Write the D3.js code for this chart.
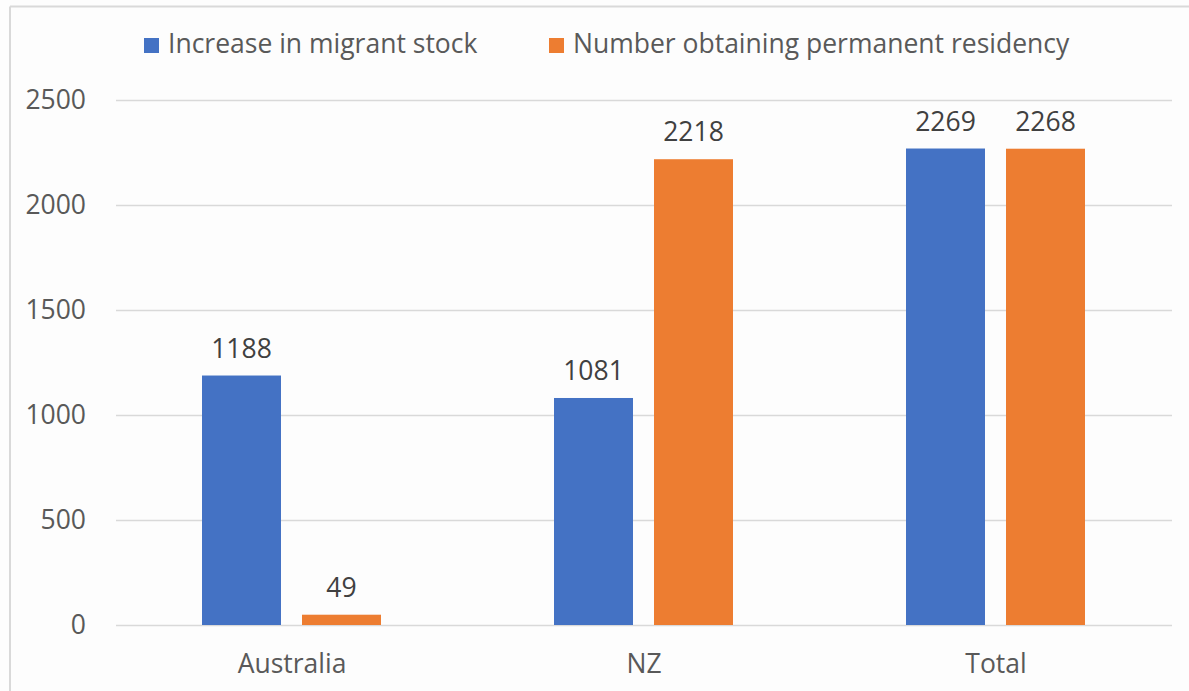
<!DOCTYPE html>
<html>
<head>
<meta charset="utf-8">
<script src="https://cdn.jsdelivr.net/npm/d3@7"></script>
<style>
  body { margin: 0; background: #fff; }
  svg { display: block; font-family: "Open Sans", sans-serif; }
</style>
</head>
<body>
<div id="chart"></div>
<script>
// data
var categories = ["Australia", "NZ", "Total"];
var seriesNames = ["Increase in migrant stock", "Number obtaining permanent residency"];
var migrantStock = [1188, 1081, 2269];
var permanentResidency = [49, 2218, 2268];
var yTicks = [0, 500, 1000, 1500, 2000, 2500];
var colors = ["#4472C4", "#ED7D31"];

var W = 1189, H = 691;
var margin = {top: 100, right: 17, bottom: 66, left: 116},
    width = W - margin.left - margin.right,
    height = H - margin.top - margin.bottom;
var fs = 26.5;

var svg = d3.select("#chart").append("svg")
    .attr("width", W)
    .attr("height", H);

svg.append("rect").attr("width", W).attr("height", H).attr("fill", "#fdfdfd");

// frame (only top and left edge are in the crop)
svg.append("line").attr("x1", 10).attr("x2", W).attr("y1", 6.5).attr("y2", 6.5)
    .attr("stroke", "#d9d9d9").attr("stroke-width", 2);
svg.append("line").attr("x1", 10).attr("x2", 10).attr("y1", 6.5).attr("y2", H)
    .attr("stroke", "#d9d9d9").attr("stroke-width", 2);

var g = svg.append("g")
    .attr("transform", "translate(" + margin.left + "," + margin.top + ")");

var x = d3.scaleBand()
    .domain(categories)
    .range([0, width])
    .padding(0);

var x1 = d3.scaleBand()
    .domain(d3.range(seriesNames.length))
    .range([86, 86 + 179])
    .paddingInner(0.21);

var y = d3.scaleLinear()
    .domain([0, 2500])
    .range([height, 0]);

// gridlines
g.append("g")
  .selectAll("line")
  .data(yTicks)
  .join("line")
    .attr("x1", 0)
    .attr("x2", width)
    .attr("y1", function(d) { return Math.round(y(d)) + 0.5; })
    .attr("y2", function(d) { return Math.round(y(d)) + 0.5; })
    .attr("stroke", "#d9d9d9")
    .attr("stroke-width", 1.5);

// y axis
var yAxis = g.append("g")
    .attr("transform", "translate(-30,0)")
    .call(d3.axisLeft(y).tickValues(yTicks).tickFormat(d3.format("d")).tickSize(0).tickPadding(0));
yAxis.select(".domain").remove();
yAxis.selectAll("text")
    .attr("font-size", fs)
    .attr("font-family", "Open Sans, sans-serif")
    .attr("fill", "#595959");

// x axis
var xAxis = g.append("g")
    .attr("transform", "translate(0," + height + ")")
    .call(d3.axisBottom(x).tickSize(0).tickPadding(0));
xAxis.select(".domain").remove();
xAxis.selectAll("text")
    .attr("dy", null)
    .attr("y", 48)
    .attr("font-size", fs)
    .attr("font-family", "Open Sans, sans-serif")
    .attr("fill", "#595959");

var series = [migrantStock, permanentResidency];
var rows = [];
series.forEach(function(vals, s) {
  vals.forEach(function(v, i) {
    rows.push({cat: categories[i], s: s, value: v});
  });
});

g.selectAll("rect.bar")
  .data(rows)
  .join("rect")
    .attr("class", "bar")
    .attr("x", function(d) { return x(d.cat) + x1(d.s); })
    .attr("width", x1.bandwidth())
    .attr("y", function(d) { return y(d.value); })
    .attr("height", function(d) { return height - y(d.value); })
    .attr("fill", function(d) { return colors[d.s]; });

g.selectAll("text.lbl")
  .data(rows)
  .join("text")
    .attr("class", "lbl")
    .attr("x", function(d) { return x(d.cat) + x1(d.s) + x1.bandwidth() / 2; })
    .attr("y", function(d) { return y(d.value) - 18; })
    .attr("text-anchor", "middle")
    .attr("font-size", fs)
    .attr("fill", "#404040")
    .text(function(d) { return d.value; });

// legend
var legendX = [144, 549];
var legend = svg.append("g");
seriesNames.forEach(function(name, i) {
  legend.append("rect")
    .attr("x", legendX[i]).attr("y", 38)
    .attr("width", 15).attr("height", 15)
    .attr("fill", colors[i]);
  legend.append("text")
    .attr("x", legendX[i] + 24).attr("y", 53)
    .attr("font-size", fs)
    .attr("fill", "#595959")
    .text(name);
});
</script>
</body>
</html>
